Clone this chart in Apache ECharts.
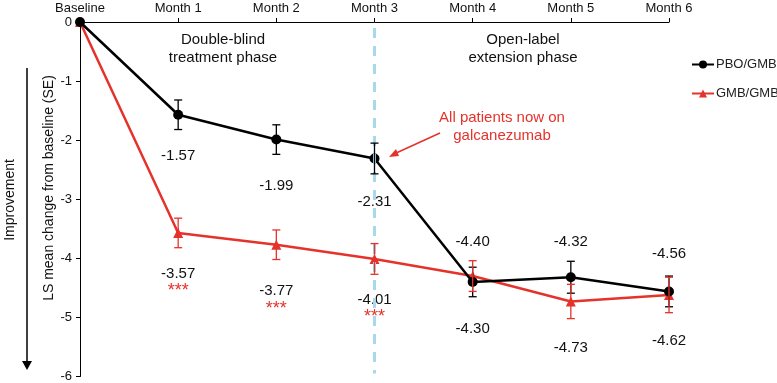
<!DOCTYPE html>
<html lang="en">
  <head>
    <meta charset="UTF-8" />
    <title>LS mean change</title>
    <script src="https://cdn.jsdelivr.net/npm/echarts@6/dist/echarts.min.js"></script>
    <style>
      html, body { margin: 0; padding: 0; background: #fff; }
    </style>
  </head>

  <body>
    <div id="main" style="width: 777px; height: 383px"></div>
    <script type="text/javascript">
      var months = ["Baseline", "Month 1", "Month 2", "Month 3", "Month 4", "Month 5", "Month 6"];
      var pboGmb = [0, -1.57, -1.99, -2.31, -4.4, -4.32, -4.56];
      var pboGmbSe = [0, 0.25, 0.25, 0.26, 0.25, 0.27, 0.26];
      var gmbGmb = [0, -3.57, -3.77, -4.01, -4.3, -4.73, -4.62];
      var gmbGmbSe = [0, 0.25, 0.25, 0.26, 0.26, 0.29, 0.3];
      var signif = ["", "***", "***", "***", "", "", ""];
      var yTicks = [0, -1, -2, -3, -4, -5, -6];

      // label placement (style only)
      var pboLabelPos = ["", "bottom", "bottom", "bottom", "top", "top", "top"];
      var pboLabelDist = [0, 29, 34, 31, 28, 23, 25];
      var gmbLabelDist = [0, 27, 33, 27, 39, 33, 32];

      var black = "#000000";
      var red = "#e5322b";
      var font = "Liberation Sans, Arial, sans-serif";

      function pointData(values, makeLabel) {
        var out = [];
        for (var i = 0; i < values.length; i++) {
          out.push({ value: values[i], label: makeLabel(i) });
        }
        return out;
      }

      function errorData(values, se) {
        var out = [];
        for (var i = 1; i < values.length; i++) {
          out.push([i, values[i] - se[i], values[i] + se[i]]);
        }
        return out;
      }

      function errorBars(color) {
        return function (params, api) {
          var x = api.value(0);
          var lo = api.coord([x, api.value(1)]);
          var hi = api.coord([x, api.value(2)]);
          var cap = 4;
          var style = { stroke: color, lineWidth: 1.3, fill: null };
          return {
            type: "group",
            children: [
              { type: "line", shape: { x1: lo[0], y1: lo[1], x2: hi[0], y2: hi[1] }, style: style },
              { type: "line", shape: { x1: lo[0] - cap, y1: lo[1], x2: lo[0] + cap, y2: lo[1] }, style: style },
              { type: "line", shape: { x1: hi[0] - cap, y1: hi[1], x2: hi[0] + cap, y2: hi[1] }, style: style },
            ],
          };
        };
      }

      var myChart = echarts.init(document.getElementById("main"));
      const option = {
        animation: false,
        textStyle: { fontFamily: font },
        grid: { left: 80, right: 108, top: 22, bottom: 6 },
        legend: {
          orient: "vertical",
          left: 686,
          top: 53,
          itemGap: 16,
          itemWidth: 22,
          itemHeight: 10,
          textStyle: { fontSize: 13, color: "#222", fontFamily: font, padding: [0, 0, 0, -3] },
          data: ["PBO/GMB", "GMB/GMB"],
        },
        xAxis: {
          type: "category",
          position: "top",
          data: months,
          boundaryGap: false,
          axisLine: { lineStyle: { color: black, width: 1 } },
          axisTick: { show: true, inside: false, length: 4, lineStyle: { color: black } },
          axisLabel: { color: "#111", fontSize: 13, margin: 7 },
          splitLine: { show: false },
        },
        yAxis: {
          type: "value",
          min: -6,
          max: 0,
          interval: 1,
          axisLine: { show: true, lineStyle: { color: black, width: 1 } },
          axisTick: { show: true, length: 4, lineStyle: { color: black } },
          axisLabel: {
            color: "#111",
            fontSize: 13,
            margin: 8,
            formatter: function (v) {
              return yTicks.indexOf(v) >= 0 ? String(v) : "";
            },
          },
          splitLine: { show: false },
        },
        series: [
          {
            name: "PBO/GMB",
            type: "line",
            data: pointData(pboGmb, function (i) {
              return {
                show: i > 0,
                position: pboLabelPos[i] || "bottom",
                distance: pboLabelDist[i],
                fontSize: 15,
                color: "#111",
                formatter: function (p) {
                  return p.value.toFixed(2);
                },
              };
            }),
            symbol: "circle",
            symbolSize: 10,
            itemStyle: { color: black },
            lineStyle: { color: black, width: 2.5 },
            z: 4,
            markLine: {
              silent: true,
              symbol: ["none", "none"],
              label: { show: false },
              lineStyle: { color: "#a9d8ec", type: [10, 8], width: 3 },
              data: [[{ xAxis: "Month 3", yAxis: -0.1 }, { xAxis: "Month 3", yAxis: -5.95 }]],
            },
          },
          {
            name: "GMB/GMB",
            type: "line",
            data: pointData(gmbGmb, function (i) {
              return {
                show: i > 0,
                position: "bottom",
                distance: gmbLabelDist[i],
                fontSize: 15,
                color: "#111",
                lineHeight: 17,
                formatter: function (p) {
                  var s = p.value.toFixed(2);
                  if (signif[p.dataIndex]) s += "\n{s|" + signif[p.dataIndex] + "}";
                  return s;
                },
                rich: { s: { color: red, fontSize: 18, lineHeight: 14, padding: [4, 0, 0, 0] } },
              };
            }),
            symbol: "triangle",
            symbolSize: 10,
            itemStyle: { color: red },
            lineStyle: { color: red, width: 2.5 },
            z: 3,
          },
          {
            name: "PBO/GMB SE",
            type: "custom",
            renderItem: errorBars(black),
            data: errorData(pboGmb, pboGmbSe),
            encode: { x: 0, y: [1, 2] },
            z: 5,
          },
          {
            name: "GMB/GMB SE",
            type: "custom",
            renderItem: errorBars(red),
            data: errorData(gmbGmb, gmbGmbSe),
            encode: { x: 0, y: [1, 2] },
            z: 5,
          },
        ],
        graphic: [
          {
            type: "text",
            x: 223,
            y: 31,
            style: {
              text: "Double-blind\ntreatment phase",
              fill: "#111",
              font: "15px " + font,
              align: "center",
              lineHeight: 18,
            },
          },
          {
            type: "text",
            x: 523,
            y: 31,
            style: {
              text: "Open-label\nextension phase",
              fill: "#111",
              font: "15px " + font,
              align: "center",
              lineHeight: 18,
            },
          },
          {
            type: "text",
            x: 502,
            y: 109,
            style: {
              text: "All patients now on\ngalcanezumab",
              fill: red,
              font: "15px " + font,
              align: "center",
              lineHeight: 18,
            },
          },
          {
            type: "line",
            shape: { x1: 440, y1: 133, x2: 394, y2: 154 },
            style: { stroke: red, lineWidth: 1.5 },
          },
          {
            type: "polygon",
            shape: { points: [[389, 157], [396, 149], [399, 156]] },
            style: { fill: red },
          },
          {
            type: "text",
            x: 49,
            y: 188,
            rotation: Math.PI / 2,
            style: {
              text: "LS mean change from baseline (SE)",
              fill: "#111",
              font: "14px " + font,
              align: "center",
              verticalAlign: "middle",
            },
          },
          {
            type: "text",
            x: 10,
            y: 200,
            rotation: Math.PI / 2,
            style: {
              text: "Improvement",
              fill: "#111",
              font: "14px " + font,
              align: "center",
              verticalAlign: "middle",
            },
          },
          {
            type: "line",
            shape: { x1: 27, y1: 68, x2: 27, y2: 362 },
            style: { stroke: black, lineWidth: 1.5 },
          },
          {
            type: "polygon",
            shape: { points: [[22, 361], [32, 361], [27, 370]] },
            style: { fill: black },
          },
        ],
      };
      myChart.setOption(option);
    </script>
  </body>
</html>
